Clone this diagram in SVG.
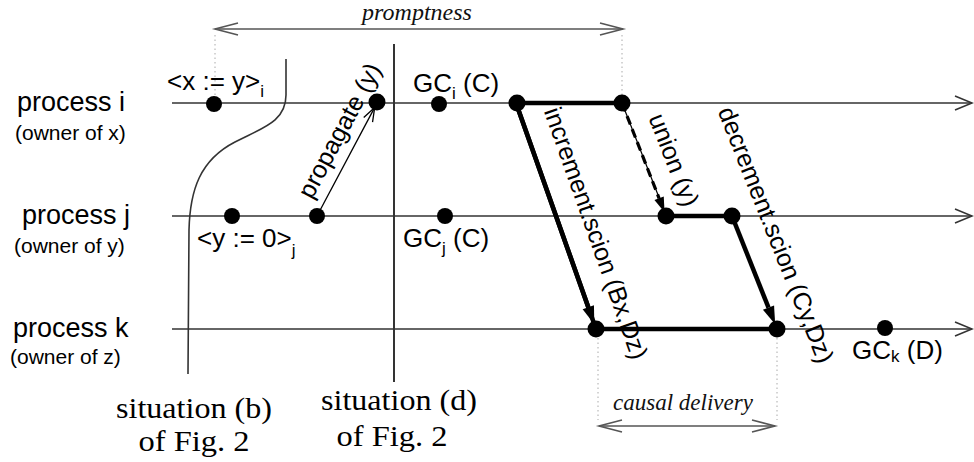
<svg xmlns="http://www.w3.org/2000/svg" width="974" height="462" viewBox="0 0 974 462">
<style>
.sans{font-family:"Liberation Sans",Arial,sans-serif;fill:#000}
.serif{font-family:"Liberation Serif","Times New Roman",serif;fill:#000}
.it{font-family:"Liberation Serif","Times New Roman",serif;font-style:italic;fill:#111}
.proc{font-size:27px}
.own{font-size:21px}
.ev{font-size:26px}
.rot{font-size:25px}
.sub{font-size:17px}
.sit{font-size:29px;text-anchor:middle}
.tl{stroke:#333;stroke-width:1.6;fill:none}
.thick{stroke:#000;stroke-width:4.5;fill:none}
.dot{fill:#000}
.guide{stroke:#aaa;stroke-width:1;stroke-dasharray:1.5,3;fill:none}
</style>
<defs>
<marker id="openEnd" markerUnits="userSpaceOnUse" markerWidth="20" markerHeight="16" refX="17" refY="7" orient="auto" overflow="visible">
<path d="M0,0 L17,7 L0,14" fill="none" stroke="#333" stroke-width="1.6"/>
</marker>
<marker id="dim" markerUnits="userSpaceOnUse" markerWidth="26" markerHeight="14" refX="23" refY="6" orient="auto-start-reverse" overflow="visible">
<path d="M0,0 L23,6 L0,12" fill="none" stroke="#555" stroke-width="1.6"/>
</marker>
<marker id="openSmall" markerUnits="userSpaceOnUse" markerWidth="16" markerHeight="12" refX="14" refY="5" orient="auto" overflow="visible">
<path d="M0,0 L14,5 L0,10" fill="none" stroke="#000" stroke-width="1.3"/>
</marker>
<marker id="filled" markerUnits="userSpaceOnUse" markerWidth="20" markerHeight="14" refX="0" refY="6" orient="auto" overflow="visible">
<path d="M0,0 L18,6 L0,12 z" fill="#000"/>
</marker>
<marker id="filledSmall" markerUnits="userSpaceOnUse" markerWidth="16" markerHeight="12" refX="0" refY="5" orient="auto" overflow="visible">
<path d="M0,0 L15,5 L0,10 z" fill="#000"/>
</marker>
</defs>

<g id="dimensions">
<line class="guide" x1="215" y1="35" x2="215" y2="95"/>
<line class="guide" x1="622" y1="35" x2="622" y2="95"/>
<line class="guide" x1="598" y1="338" x2="598" y2="420"/>
<line class="guide" x1="777" y1="338" x2="777" y2="420"/>
<line x1="215" y1="29" x2="623" y2="29" stroke="#555" stroke-width="1.6" marker-start="url(#dim)" marker-end="url(#dim)"/>
<text class="it" x="417" y="20" font-size="24" text-anchor="middle">promptness</text>
<line x1="599" y1="426" x2="775" y2="426" stroke="#555" stroke-width="1.6" marker-start="url(#dim)" marker-end="url(#dim)"/>
<text class="it" x="683" y="410" font-size="23" text-anchor="middle">causal delivery</text>
</g>

<g id="situations">
<path class="tl" stroke="#000" d="M286,59 L286,95 C286,122 262,128 235,142 C200,160 190,190 189,230 L188,374"/>
<line x1="394" y1="44" x2="394" y2="382" stroke="#000" stroke-width="1.6"/>
<text class="serif sit" x="194" y="418" textLength="156" lengthAdjust="spacingAndGlyphs">situation (b)</text>
<text class="serif sit" x="194" y="451" textLength="111" lengthAdjust="spacingAndGlyphs">of Fig. 2</text>
<text class="serif sit" x="399" y="410" textLength="156" lengthAdjust="spacingAndGlyphs">situation (d)</text>
<text class="serif sit" x="392" y="446" textLength="111" lengthAdjust="spacingAndGlyphs">of Fig. 2</text>
</g>

<g id="process-i">
<line class="tl" x1="172" y1="103" x2="972" y2="103" marker-end="url(#openEnd)"/>
<text class="sans proc" x="17" y="111">process i</text>
<text class="sans own" x="15" y="140">(owner of x)</text>
</g>
<g id="process-j">
<line class="tl" x1="172" y1="216" x2="972" y2="216" marker-end="url(#openEnd)"/>
<text class="sans proc" x="22" y="224">process j</text>
<text class="sans own" x="14" y="253">(owner of y)</text>
</g>
<g id="process-k">
<line class="tl" x1="172" y1="329" x2="972" y2="329" marker-end="url(#openEnd)"/>
<text class="sans proc" x="13" y="337">process k</text>
<text class="sans own" x="10" y="364">(owner of z)</text>
</g>

<g id="connectors">
<line x1="317" y1="216" x2="374.7" y2="107.4" stroke="#000" stroke-width="1.3" marker-end="url(#openSmall)"/>
<polyline class="thick" points="596,329 516,103 622,103"/>
<line class="thick" x1="516" y1="103" x2="588.3" y2="307.3" marker-end="url(#filled)"/>
<line x1="622" y1="103" x2="660" y2="200" stroke="#000" stroke-width="1.2"/>
<line x1="622" y1="103" x2="659.1" y2="198.3" stroke="#000" stroke-width="3.2" stroke-dasharray="9,5" marker-end="url(#filledSmall)"/>
<line class="thick" x1="666" y1="216" x2="732" y2="216"/>
<line class="thick" x1="732" y1="216" x2="768.5" y2="307.6" marker-end="url(#filled)"/>
<line class="thick" x1="596" y1="329" x2="777" y2="329"/>
<text class="sans rot" transform="translate(347,134.5) rotate(-62)" text-anchor="middle">propagate (y)</text>
<text class="sans rot" transform="translate(588,236) rotate(70.5)" text-anchor="middle">increment.scion (Bx,Dz)</text>
<text class="sans rot" transform="translate(666,163) rotate(68.7)" text-anchor="middle">union (y)</text>
<text class="sans rot" transform="translate(768,238) rotate(68.3)" text-anchor="middle">decrement.scion (Cy,Dz)</text>
</g>

<g id="ev-assign-x">
<circle class="dot" cx="214" cy="104" r="8"/>
<text class="sans ev" x="167" y="90">&lt;x := y&gt;<tspan class="sub" dy="7">i</tspan></text>
</g>
<g id="ev-propagate-recv"><circle class="dot" cx="377" cy="102" r="8.5"/></g>
<g id="ev-gc-i">
<circle class="dot" cx="439" cy="104" r="8"/>
<text class="sans ev" x="413" y="92">GC<tspan class="sub" dy="7">i</tspan><tspan dy="-7"> (C)</tspan></text>
</g>
<g id="ev-i-inc"><circle class="dot" cx="517" cy="103" r="8.5"/></g>
<g id="ev-i-union"><circle class="dot" cx="622" cy="103" r="8.5"/></g>

<g id="ev-assign-y">
<circle class="dot" cx="232" cy="216" r="8"/>
<text class="sans ev" x="197" y="247">&lt;y := 0&gt;<tspan class="sub" dy="9">j</tspan></text>
</g>
<g id="ev-propagate-send"><circle class="dot" cx="317" cy="216" r="8"/></g>
<g id="ev-gc-j">
<circle class="dot" cx="445" cy="216" r="8"/>
<text class="sans ev" x="403" y="247">GC<tspan class="sub" dy="7">j</tspan><tspan dy="-7"> (C)</tspan></text>
</g>
<g id="ev-j-union"><circle class="dot" cx="666" cy="216" r="8.5"/></g>
<g id="ev-j-dec"><circle class="dot" cx="732" cy="216" r="8.5"/></g>

<g id="ev-k-inc"><circle class="dot" cx="596" cy="329" r="8.5"/></g>
<g id="ev-k-dec"><circle class="dot" cx="777" cy="329" r="8.5"/></g>
<g id="ev-gc-k">
<circle class="dot" cx="885" cy="328" r="8"/>
<text class="sans ev" x="852" y="359">GC<tspan class="sub" dy="3">k</tspan><tspan dy="-3"> (D)</tspan></text>
</g>
</svg>
